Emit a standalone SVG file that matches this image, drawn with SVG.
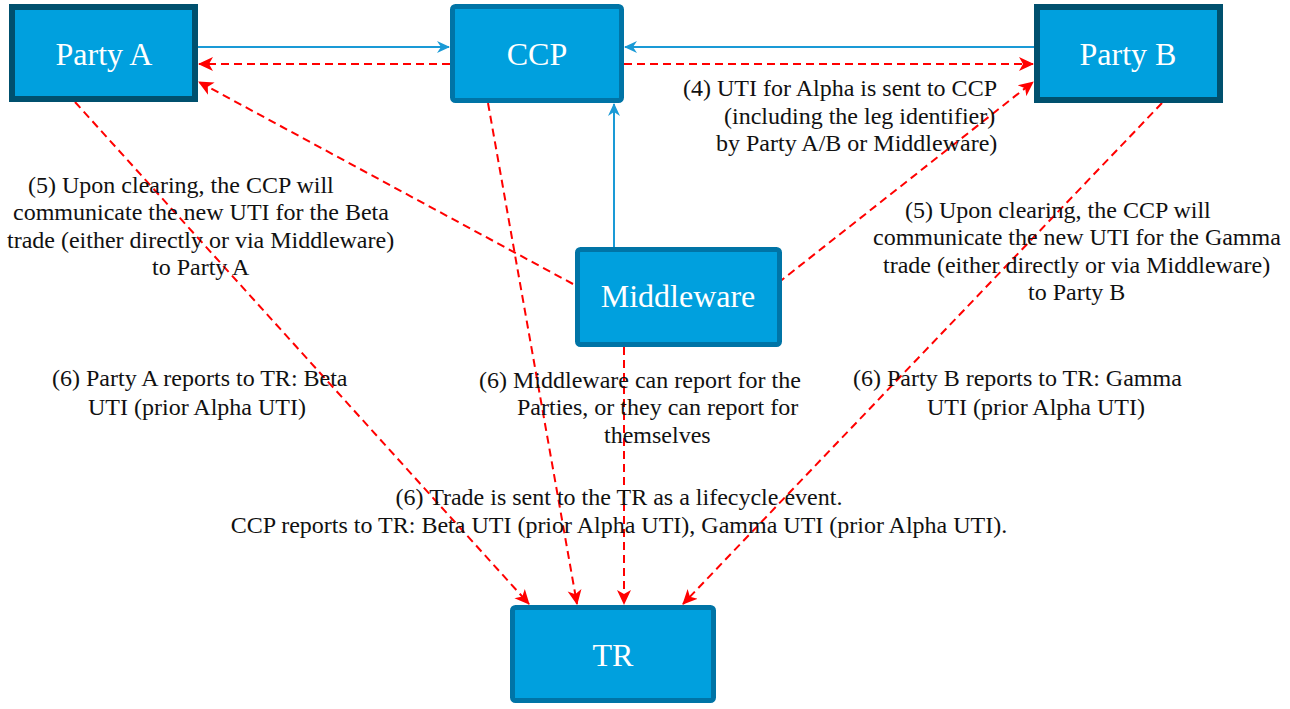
<svg xmlns="http://www.w3.org/2000/svg" width="1290" height="709" viewBox="0 0 1290 709">
<style>
.box{fill:#00a0de;}
.party{stroke:#00506e;stroke-width:6;}
.other{stroke:#0074a6;stroke-width:5;}
.nt{font-family:"Liberation Serif","Times New Roman",serif;font-size:32px;fill:#ffffff;text-anchor:middle;}
.lbl{font-family:"Liberation Serif","Times New Roman",serif;font-size:24px;fill:#111111;}
.blue{stroke:#1a9ad6;stroke-width:2;fill:none;marker-end:url(#ab);}
.red{stroke:#ff0000;stroke-width:2;fill:none;stroke-dasharray:8,5;marker-end:url(#ar);}
</style>
<defs>
<marker id="ab" markerWidth="14" markerHeight="14" refX="12" refY="7" orient="auto" markerUnits="userSpaceOnUse">
<path d="M0,1 L13,7 L0,13 L4,7 z" fill="#1a9ad6"/>
</marker>
<marker id="ar" markerWidth="16" markerHeight="16" refX="14" refY="8" orient="auto" markerUnits="userSpaceOnUse">
<path d="M0,1 L15,8 L0,15 L4,8 z" fill="#ff0000"/>
</marker>
</defs>
<g id="connectors">
<path class="blue" d="M197,47 L449,47"/>
<path class="blue" d="M1034,47 L625,47"/>
<path class="blue" d="M614,247 L614,104"/>
<path class="red" d="M450,64 L199,64"/>
<path class="red" d="M624,64 L1033,64"/>
<path class="red" d="M573,284 L199,82"/>
<path class="red" d="M778,283 L1033,82"/>
<path class="red" d="M75,102 L529,604"/>
<path class="red" d="M488,103 L577,604"/>
<path class="red" d="M624,347 L624,604"/>
<path class="red" d="M1162,103 L683,604"/>
</g>
<g id="partyA">
<rect class="box party" x="12" y="7" width="183" height="92"/>
<text class="nt" x="104" y="65">Party A</text>
</g>
<g id="ccp">
<rect class="box other" x="452.5" y="6.5" width="169" height="94" rx="3"/>
<text class="nt" x="537" y="65">CCP</text>
</g>
<g id="partyB">
<rect class="box party" x="1037" y="7" width="183" height="93"/>
<text class="nt" x="1128" y="65">Party B</text>
</g>
<g id="middleware">
<rect class="box other" x="577.5" y="249.5" width="202" height="95" rx="3"/>
<text class="nt" x="678" y="307">Middleware</text>
</g>
<g id="tr">
<rect class="box other" x="512.5" y="607.5" width="201" height="93" rx="3"/>
<text class="nt" x="613" y="666">TR</text>
</g>
<g id="labels">
<text class="lbl"><tspan x="683" y="96">(4) UTI for Alpha is sent to CCP</tspan><tspan x="724" y="123.5">(including the leg identifier)</tspan><tspan x="716" y="151">by Party A/B or Middleware)</tspan></text>
<text class="lbl"><tspan x="28" y="193">(5) Upon clearing, the CCP will</tspan><tspan x="13" y="220">communicate the new UTI for the Beta</tspan><tspan x="7" y="248">trade (either directly or via Middleware)</tspan><tspan x="152" y="275">to Party A</tspan></text>
<text class="lbl"><tspan x="905" y="218">(5) Upon clearing, the CCP will</tspan><tspan x="873" y="245">communicate the new UTI for the Gamma</tspan><tspan x="883" y="273">trade (either directly or via Middleware)</tspan><tspan x="1028" y="300">to Party B</tspan></text>
<text class="lbl"><tspan x="52" y="386">(6) Party A reports to TR: Beta</tspan><tspan x="88" y="415">UTI (prior Alpha UTI)</tspan></text>
<text class="lbl"><tspan x="479" y="388">(6) Middleware can report for the</tspan><tspan x="517" y="415">Parties, or they can report for</tspan><tspan x="604" y="443">themselves</tspan></text>
<text class="lbl"><tspan x="853" y="386">(6) Party B reports to TR: Gamma</tspan><tspan x="927" y="415">UTI (prior Alpha UTI)</tspan></text>
<text class="lbl" text-anchor="middle"><tspan x="619" y="505">(6) Trade is sent to the TR as a lifecycle event.</tspan><tspan x="619" y="533">CCP reports to TR: Beta UTI (prior Alpha UTI), Gamma UTI (prior Alpha UTI).</tspan></text>
</g>
</svg>
